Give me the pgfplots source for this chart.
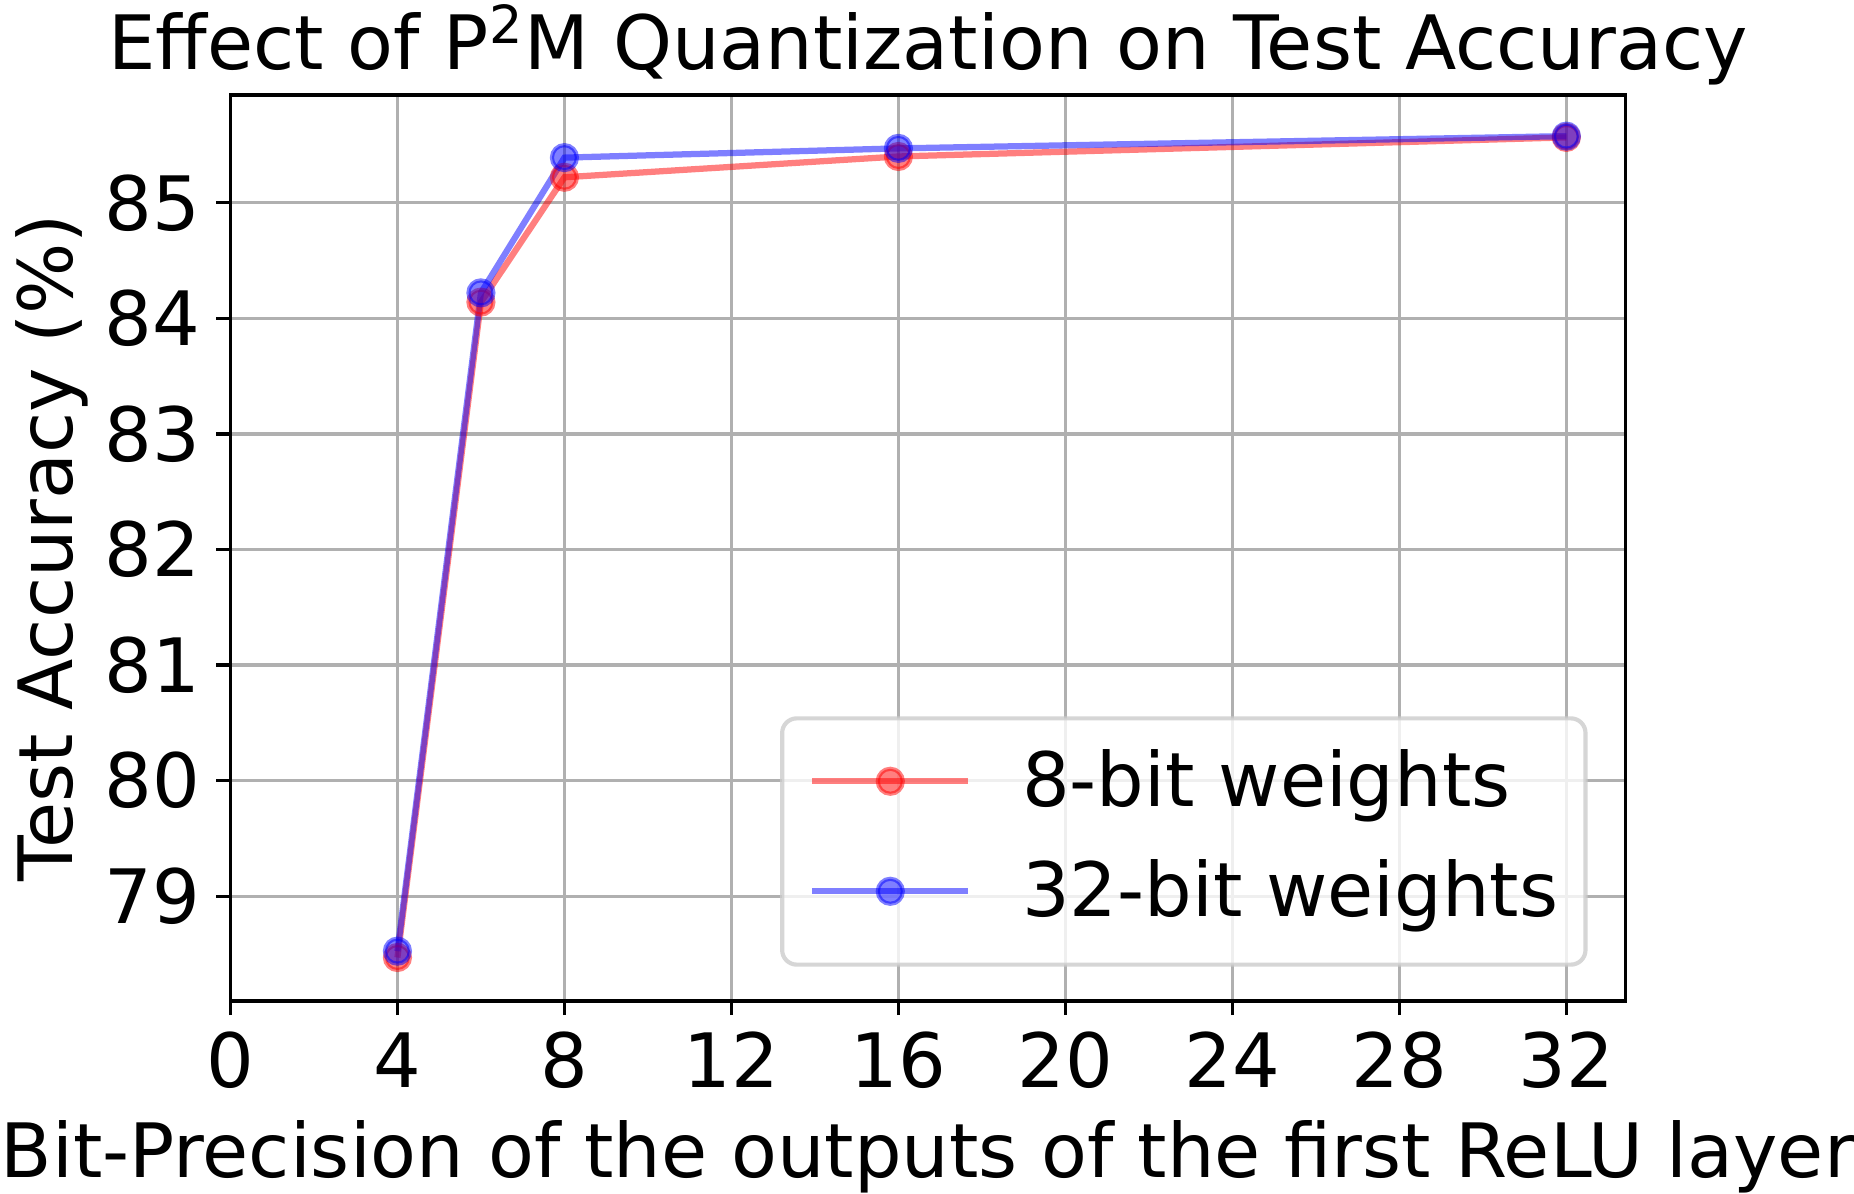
\documentclass[border=0pt]{standalone}
\usepackage{fontspec}
\setmainfont{DejaVu Sans}
\usepackage{pgfplots}
\pgfplotsset{compat=1.18}
\definecolor{gridgray}{HTML}{B0B0B0}
\definecolor{legframe}{HTML}{CCCCCC}
\begin{document}
\begin{tikzpicture}
\begin{axis}[
  at={(0pt,0pt)}, anchor=origin,
  scale only axis,
  width=334.7pt, height=217.4pt,
  xmin=0, xmax=33.41,
  ymin=78.094, ymax=85.932,
  xtick={0,4,8,12,16,20,24,28,32},
  ytick={79,80,81,82,83,84,85},
  /pgf/number format/assume math mode=true,
  tick label style={font=\fontsize{18}{21.6}\selectfont},
  xticklabel style={anchor=base, yshift=-17.3pt, inner sep=0pt},
  yticklabel style={anchor=east, xshift=-3.6pt, inner sep=0pt},
  tick align=outside,
  major tick length=3.4pt,
  every tick/.style={black, line width=0.8pt},
  xtick pos=bottom, ytick pos=left,
  grid=major,
  major grid style={gridgray, line width=0.8pt},
  axis line style={black, line width=0.8pt},
  title={Effect of P\textsuperscript{2}M Quantization on Test Accuracy},
  every axis title/.style={at={(axis description cs:0.5,1)}, anchor=base, yshift=6.2pt, inner sep=0pt, font=\fontsize{18}{21.6}\selectfont},
  xlabel={Bit-Precision of the outputs of the first ReLU layer},
  every axis x label/.style={at={(axis description cs:0.5,0)}, anchor=base, yshift=-42.3pt, inner sep=0pt, font=\fontsize{18}{21.6}\selectfont},
  ylabel={Test Accuracy (\%)},
  every axis y label/.style={at={(axis description cs:0,0.5)}, xshift=-37.9pt, rotate=90, anchor=base, inner sep=0pt, font=\fontsize{18}{21.6}\selectfont},
  legend image code/.code={
    \path (0pt,0pt);
    \draw[mark repeat=2, mark phase=2] plot coordinates {(0pt,6.0pt) (18.7pt,6.0pt) (37.4pt,6.0pt)};
  },
  legend style={
    at={(axis description cs:0.973,0.0378)}, anchor=south east,
    draw=legframe, line width=1pt, rounded corners=3.5pt,
    fill=white, fill opacity=0.8, text opacity=1, draw opacity=0.8,
    inner xsep=6.5pt, inner ysep=7.4pt,
    row sep=8.5pt, column sep=12.2pt,
    nodes={inner sep=0pt, text height=13.7pt, text depth=4.2pt, anchor=base west},
    font=\fontsize{18}{21.6}\selectfont,
  },
]
\addplot[color=red, opacity=0.5, line width=1.5pt, mark=*, mark size=3pt,
  mark options={line width=1pt}] coordinates {
  (4,78.47) (6,84.14) (8,85.22) (16,85.40) (32,85.565)
};
\addlegendentry{8-bit weights}
\addplot[color=blue, opacity=0.5, line width=1.5pt, mark=*, mark size=3pt,
  mark options={line width=1pt}] coordinates {
  (4,78.525) (6,84.22) (8,85.39) (16,85.47) (32,85.576)
};
\addlegendentry{32-bit weights}
\end{axis}
\pgfresetboundingbox
\path[use as bounding box] (-55.3pt,-46.1pt) rectangle (389.6pt,240.2pt);
\end{tikzpicture}
\end{document}
